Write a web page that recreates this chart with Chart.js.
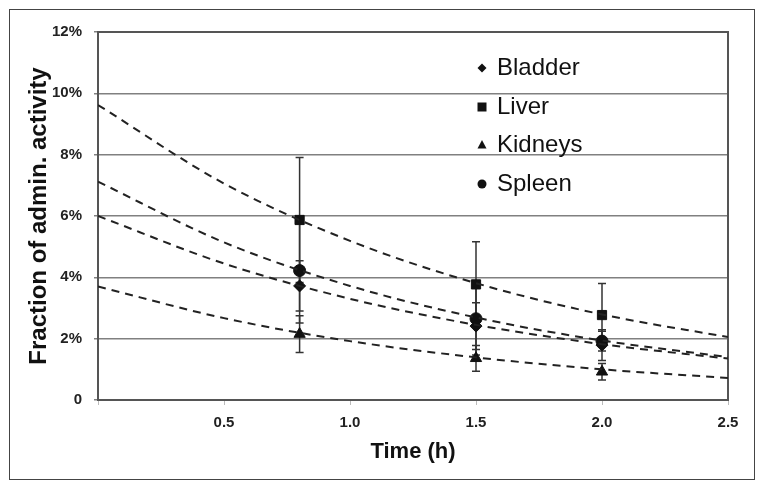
<!DOCTYPE html>
<html>
<head>
<meta charset="utf-8">
<script src="https://cdn.jsdelivr.net/npm/chart.js@4.4.0/dist/chart.umd.min.js"></script>
<style>
    html, body { margin: 0; padding: 0; background: #fff; }
    #wrap { position: relative; width: 764px; height: 489px; }
    #frame { position: absolute; left: 9px; top: 9px; width: 744px; height: 469px; border: 1px solid #444; pointer-events: none; }
</style>
</head>
<body>
<div id="wrap">
    <canvas id="chart" width="764" height="489"></canvas>
    <div id="frame"></div>
</div>
<script>
// measured time points (h)
const times = [0.8, 1.5, 2.0];

// mean values (% of administered activity)
const bladder = [3.72, 2.41, 1.79];
const liver = [5.87, 3.77, 2.77];
const kidneys = [2.15, 1.36, 0.92];
const spleen = [4.22, 2.65, 1.92];

// error bar half-widths
const bladderErr = [0.82, 0.76, 0.50];
const liverErr = [2.04, 1.39, 1.03];
const kidneysErr = [0.60, 0.42, 0.27];
const spleenErr = [1.71, 1.18, 0.32];

// dashed fit curves
const fitTimes = [0, 0.5, 1.0, 1.5, 2.0, 2.5];
const bladderFit = [6.00, 4.45, 3.30, 2.45, 1.82, 1.35];
const liverFit = [9.62, 7.06, 5.19, 3.81, 2.79, 2.05];
const kidneysFit = [3.70, 2.67, 1.92, 1.39, 1.00, 0.72];
const spleenFit = [7.12, 5.14, 3.72, 2.69, 1.94, 1.40];

const yTicks = [0, 2, 4, 6, 8, 10, 12];
const xTicks = [0, 0.5, 1.0, 1.5, 2.0, 2.5];

const organs = [
    { label: 'Bladder', values: bladder, err: bladderErr, fit: bladderFit, style: 'rectRot', radius: 6 },
    { label: 'Liver', values: liver, err: liverErr, fit: liverFit, style: 'rect', radius: 6.5 },
    { label: 'Kidneys', values: kidneys, err: kidneysErr, fit: kidneysFit, style: 'triangle', radius: 6.5 },
    { label: 'Spleen', values: spleen, err: spleenErr, fit: spleenFit, style: 'circle', radius: 6 }
];

const pairs = (xs, ys) => xs.map((x, i) => ({ x: x, y: ys[i] }));

const datasets = [];
organs.forEach(o => {
    datasets.push({
        label: o.label + ' fit',
        data: pairs(fitTimes, o.fit),
        showLine: true,
        borderColor: '#222',
        borderWidth: 2,
        borderDash: [8, 6],
        pointRadius: 0,
        cubicInterpolationMode: 'monotone',
        fill: false
    });
});
organs.forEach(o => {
    datasets.push({
        label: o.label,
        data: pairs(times, o.values),
        showLine: false,
        pointStyle: o.style,
        pointRadius: o.radius,
        backgroundColor: '#111',
        borderColor: '#111',
        borderWidth: 1
    });
});

// Error bars, drawn under the markers
const errorBars = {
    id: 'errorBars',
    beforeDatasetsDraw(chart) {
        const { ctx, scales: { x, y } } = chart;
        ctx.save();
        ctx.strokeStyle = '#333';
        ctx.lineWidth = 1.5;
        organs.forEach(o => {
            times.forEach((t, i) => {
                const px = x.getPixelForValue(t);
                const top = y.getPixelForValue(o.values[i] + o.err[i]);
                const bot = y.getPixelForValue(o.values[i] - o.err[i]);
                ctx.beginPath();
                ctx.moveTo(px, top); ctx.lineTo(px, bot);
                ctx.moveTo(px - 4, top); ctx.lineTo(px + 4, top);
                ctx.moveTo(px - 4, bot); ctx.lineTo(px + 4, bot);
                ctx.stroke();
            });
        });
        ctx.restore();
    }
};

// Plot frame
const plotFrame = {
    id: 'plotFrame',
    beforeDatasetsDraw(chart) {
        const { ctx, chartArea: a } = chart;
        ctx.save();
        ctx.strokeStyle = '#555';
        ctx.lineWidth = 2;
        ctx.strokeRect(a.left, a.top, a.right - a.left, a.bottom - a.top);
        ctx.restore();
    }
};

// Legend inside the plot, transparent
const innerLegend = {
    id: 'innerLegend',
    afterDraw(chart) {
        const ctx = chart.ctx;
        const mx = 482, tx = 497;
        const rows = [68, 107, 145, 184];
        ctx.save();
        ctx.fillStyle = '#111';
        organs.forEach((o, i) => {
            const cy = rows[i];
            ctx.beginPath();
            if (o.style === 'rectRot') {
                ctx.moveTo(mx, cy - 4.5); ctx.lineTo(mx + 4.5, cy); ctx.lineTo(mx, cy + 4.5); ctx.lineTo(mx - 4.5, cy);
            } else if (o.style === 'rect') {
                ctx.rect(mx - 4.5, cy - 4.5, 9, 9);
            } else if (o.style === 'triangle') {
                ctx.moveTo(mx, cy - 5); ctx.lineTo(mx + 4.5, cy + 3.5); ctx.lineTo(mx - 4.5, cy + 3.5);
            } else {
                ctx.arc(mx, cy, 4.5, 0, Math.PI * 2);
            }
            ctx.closePath();
            ctx.fill();
            ctx.font = '24px "Liberation Sans", Arial, sans-serif';
            ctx.textBaseline = 'middle';
            ctx.textAlign = 'left';
            ctx.fillText(o.label, tx, cy);
        });
        ctx.restore();
    }
};

const tickFont = { family: '"Liberation Sans", Arial, sans-serif', size: 15, weight: 'bold' };

new Chart(document.querySelector('#chart').getContext('2d'), {
    type: 'scatter',
    data: { datasets: datasets },
    options: {
        responsive: false,
        animation: false,
        layout: { padding: { top: 32, right: 36, left: 0, bottom: 0 } },
        plugins: {
            legend: { display: false },
            tooltip: { enabled: false }
        },
        scales: {
            x: {
                type: 'linear',
                min: 0,
                max: 2.5,
                afterBuildTicks: s => { s.ticks = xTicks.map(v => ({ value: v })); },
                afterFit: s => { s.height = 89; },
                grid: { drawOnChartArea: false, color: '#bbb', tickLength: 5 },
                border: { color: '#555', width: 2 },
                ticks: {
                    color: '#222',
                    font: tickFont,
                    padding: 9,
                    maxRotation: 0,
                    callback: v => v === 0 ? '' : v.toFixed(1)
                },
                title: {
                    display: true,
                    text: 'Time (h)',
                    color: '#111',
                    font: { family: '"Liberation Sans", Arial, sans-serif', size: 22, weight: 'bold' },
                    padding: { bottom: 24 }
                }
            },
            y: {
                min: 0,
                max: 12,
                afterBuildTicks: s => { s.ticks = yTicks.map(v => ({ value: v })); },
                afterFit: s => { s.width = 98; },
                grid: { color: '#808080', lineWidth: 1.5, tickLength: 4 },
                border: { color: '#555', width: 2 },
                ticks: {
                    color: '#222',
                    font: tickFont,
                    padding: 12,
                    callback: v => v === 0 ? '0' : v + '%'
                },
                title: {
                    display: true,
                    text: 'Fraction of admin. activity',
                    color: '#111',
                    font: { family: '"Liberation Sans", Arial, sans-serif', size: 24, weight: 'bold' },
                    padding: { top: 25 }
                }
            }
        }
    },
    plugins: [plotFrame, errorBars, innerLegend]
});
</script>
</body>
</html>
